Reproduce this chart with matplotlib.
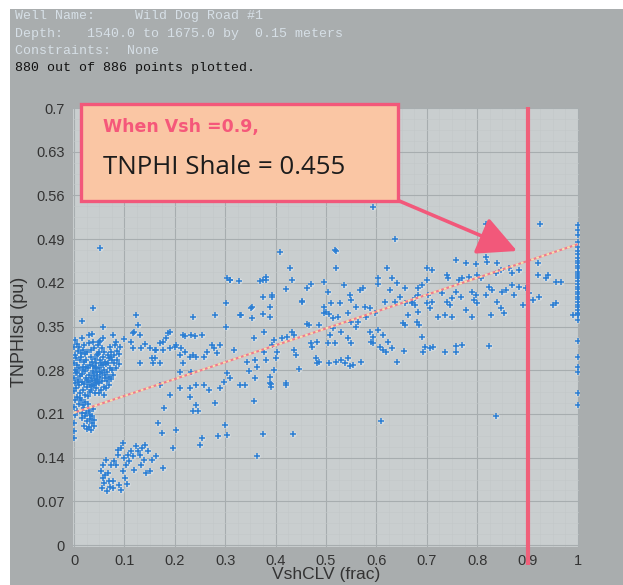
import matplotlib
matplotlib.use("Agg")
import matplotlib.pyplot as plt
from matplotlib.patches import Rectangle
import numpy as np

# ---------------------------------------------------------------------------
# Data: VshCLV (frac) vs TNPHIsd (pu), Wild Dog Road #1
# ---------------------------------------------------------------------------
sand_vsh = [0.000, 0.000, 0.001, 0.000, 0.002, 0.000, 0.001, 0.000, 0.002, 0.000, 0.001, 0.000, 0.002, 0.000,
            0.005, 0.006, 0.004, 0.007, 0.005, 0.006, 0.004, 0.007, 0.005,
            0.010, 0.011, 0.009, 0.012, 0.010, 0.011, 0.013, 0.009,
            0.015, 0.016, 0.014, 0.017, 0.015, 0.016, 0.018, 0.014, 0.017, 0.015,
            0.020, 0.021, 0.019, 0.022, 0.020, 0.023, 0.021, 0.019, 0.022, 0.020,
            0.025, 0.026, 0.024, 0.027, 0.025, 0.026, 0.028, 0.024, 0.026,
            0.030, 0.031, 0.029, 0.032, 0.030, 0.031, 0.033, 0.029,
            0.034, 0.035, 0.036, 0.034, 0.035, 0.037, 0.036, 0.034, 0.035,
            0.039, 0.040, 0.041, 0.039, 0.040, 0.042, 0.041, 0.039,
            0.044, 0.045, 0.046, 0.044, 0.045, 0.047,
            0.049, 0.050, 0.051, 0.049, 0.052, 0.050, 0.051,
            0.054, 0.055, 0.056, 0.054, 0.057, 0.055,
            0.059, 0.060, 0.061, 0.059, 0.062, 0.060, 0.058,
            0.064, 0.065, 0.066, 0.064, 0.067,
            0.069, 0.070, 0.071, 0.069, 0.072,
            0.074, 0.075, 0.076, 0.074,
            0.078, 0.079, 0.080, 0.081,
            0.084, 0.085, 0.086, 0.083,
            0.089, 0.090, 0.091,
            0.027, 0.033, 0.038, 0.043, 0.047, 0.052, 0.057, 0.031, 0.036, 0.041, 0.046, 0.053, 0.012, 0.018,
            0.023, 0.008, 0.003, 0.028, 0.037, 0.043, 0.062, 0.068, 0.073, 0.048, 0.022, 0.017, 0.032, 0.038]
sand_tnphi = [0.182, 0.196, 0.208, 0.221, 0.233, 0.247, 0.259, 0.268, 0.281, 0.292, 0.304, 0.317, 0.328, 0.172,
              0.214, 0.238, 0.252, 0.264, 0.277, 0.289, 0.299, 0.311, 0.322,
              0.226, 0.244, 0.257, 0.271, 0.284, 0.296, 0.307, 0.318,
              0.203, 0.212, 0.232, 0.249, 0.262, 0.274, 0.286, 0.301, 0.313, 0.331,
              0.191, 0.207, 0.219, 0.241, 0.258, 0.268, 0.279, 0.293, 0.306, 0.321,
              0.186, 0.199, 0.211, 0.226, 0.253, 0.265, 0.283, 0.297, 0.309,
              0.189, 0.202, 0.215, 0.256, 0.272, 0.288, 0.302, 0.324,
              0.184, 0.195, 0.206, 0.249, 0.263, 0.279, 0.293, 0.312, 0.338,
              0.191, 0.201, 0.244, 0.257, 0.271, 0.285, 0.298, 0.316,
              0.252, 0.266, 0.277, 0.291, 0.305, 0.321,
              0.244, 0.259, 0.270, 0.283, 0.297, 0.310, 0.327,
              0.249, 0.263, 0.275, 0.288, 0.302, 0.316,
              0.241, 0.254, 0.268, 0.281, 0.294, 0.309, 0.332,
              0.251, 0.263, 0.277, 0.290, 0.304,
              0.257, 0.270, 0.284, 0.299, 0.317,
              0.266, 0.281, 0.296, 0.309,
              0.272, 0.291, 0.304, 0.321,
              0.284, 0.297, 0.311, 0.326,
              0.290, 0.306, 0.317,
              0.261, 0.268, 0.276, 0.283, 0.262, 0.278, 0.289, 0.245, 0.255, 0.264, 0.272, 0.291, 0.236, 0.281,
              0.286, 0.262, 0.276, 0.239, 0.287, 0.259, 0.273, 0.292, 0.301, 0.306, 0.229, 0.224, 0.209, 0.218]

tight_vsh = [0.057, 0.054, 0.057, 0.055, 0.067, 0.070, 0.077, 0.093, 0.083, 0.087, 0.093, 0.100, 0.097, 0.103,
             0.107, 0.113, 0.123, 0.130, 0.140, 0.147, 0.133, 0.150, 0.143, 0.163, 0.177, 0.102, 0.090, 0.077,
             0.063, 0.073, 0.060, 0.066, 0.080, 0.088, 0.097, 0.110, 0.118, 0.127, 0.135, 0.120, 0.106, 0.062,
             0.071, 0.155, 0.138]
tight_tnphi = [0.128, 0.118, 0.107, 0.091, 0.115, 0.102, 0.091, 0.088, 0.128, 0.144, 0.155, 0.139, 0.118, 0.128,
               0.144, 0.150, 0.158, 0.144, 0.160, 0.150, 0.128, 0.118, 0.116, 0.142, 0.123, 0.107, 0.096, 0.102,
               0.136, 0.128, 0.099, 0.087, 0.135, 0.152, 0.163, 0.135, 0.142, 0.151, 0.156, 0.120, 0.098, 0.112,
               0.093, 0.136, 0.137]

shaly_vsh = [0.052, 0.038, 0.015, 0.058, 0.123, 0.127, 0.120, 0.130, 0.030, 0.037, 0.050, 0.113, 0.133, 0.117,
             0.150, 0.160, 0.170, 0.177, 0.190, 0.203, 0.213, 0.220, 0.230, 0.210, 0.243, 0.257, 0.283, 0.277,
             0.290, 0.190, 0.183, 0.217, 0.233, 0.253, 0.303, 0.310, 0.327, 0.301, 0.280, 0.237, 0.302, 0.330,
             0.317, 0.155, 0.157, 0.170, 0.130, 0.217, 0.210, 0.233, 0.170, 0.210, 0.190, 0.230, 0.243, 0.257,
             0.267, 0.230, 0.243, 0.237, 0.247, 0.280, 0.297, 0.303, 0.310, 0.330, 0.290, 0.179, 0.167, 0.175,
             0.203, 0.197, 0.253, 0.250, 0.285, 0.300, 0.303, 0.117, 0.163, 0.160, 0.177, 0.187, 0.200, 0.220,
             0.240, 0.236, 0.264, 0.274, 0.077, 0.100, 0.140]
shaly_tnphi = [0.476, 0.379, 0.359, 0.349, 0.368, 0.353, 0.341, 0.337, 0.337, 0.326, 0.325, 0.326, 0.315, 0.315,
               0.315, 0.313, 0.323, 0.313, 0.315, 0.320, 0.316, 0.310, 0.302, 0.304, 0.302, 0.302, 0.307, 0.315,
               0.320, 0.342, 0.331, 0.337, 0.337, 0.337, 0.427, 0.424, 0.423, 0.387, 0.369, 0.366, 0.350, 0.369,
               0.312, 0.299, 0.291, 0.291, 0.291, 0.291, 0.278, 0.278, 0.256, 0.251, 0.240, 0.251, 0.256, 0.256,
               0.248, 0.238, 0.224, 0.214, 0.215, 0.227, 0.262, 0.275, 0.267, 0.256, 0.251, 0.220, 0.195, 0.179,
               0.184, 0.156, 0.171, 0.160, 0.174, 0.192, 0.176, 0.340, 0.312, 0.300, 0.325, 0.340, 0.318, 0.335,
               0.335, 0.305, 0.310, 0.320, 0.336, 0.330, 0.322]

mid_vsh = [0.637, 0.409, 0.519, 0.429, 0.519, 0.622, 0.380, 0.370, 0.433, 0.470, 0.463, 0.420, 0.497, 0.535,
           0.603, 0.603, 0.630, 0.640, 0.657, 0.627, 0.567, 0.573, 0.547, 0.550, 0.375, 0.393, 0.453, 0.452,
           0.503, 0.353, 0.389, 0.510, 0.527, 0.497, 0.500, 0.505, 0.496, 0.513, 0.523, 0.543, 0.560, 0.578,
           0.587, 0.597, 0.580, 0.563, 0.550, 0.560, 0.617, 0.637, 0.647, 0.657, 0.670, 0.677, 0.663, 0.653,
           0.657, 0.463, 0.467, 0.487, 0.513, 0.353, 0.332, 0.389, 0.433, 0.437, 0.423, 0.377, 0.397, 0.393,
           0.413, 0.357, 0.470, 0.473, 0.483, 0.507, 0.503, 0.517, 0.530, 0.543, 0.550, 0.587, 0.593, 0.603,
           0.613, 0.593, 0.590, 0.607, 0.613, 0.623, 0.620, 0.630, 0.655, 0.437, 0.440, 0.402, 0.400, 0.377,
           0.380, 0.360, 0.363, 0.343, 0.397, 0.447, 0.480, 0.487, 0.482, 0.505, 0.520, 0.530, 0.543, 0.537,
           0.553, 0.547, 0.570, 0.640, 0.347, 0.360, 0.389, 0.389, 0.390, 0.340, 0.420, 0.357, 0.610, 0.309,
           0.375, 0.381, 0.352, 0.375, 0.393, 0.593, 0.517, 0.363, 0.375, 0.435, 0.420, 0.390]
mid_tnphi = [0.491, 0.470, 0.471, 0.444, 0.444, 0.443, 0.430, 0.423, 0.425, 0.418, 0.412, 0.410, 0.422, 0.417,
             0.427, 0.418, 0.427, 0.419, 0.411, 0.409, 0.409, 0.412, 0.401, 0.393, 0.398, 0.398, 0.391, 0.389,
             0.406, 0.382, 0.382, 0.387, 0.387, 0.382, 0.374, 0.370, 0.372, 0.363, 0.366, 0.371, 0.382, 0.382,
             0.379, 0.371, 0.366, 0.358, 0.358, 0.350, 0.390, 0.390, 0.398, 0.387, 0.390, 0.385, 0.369, 0.355,
             0.352, 0.354, 0.353, 0.353, 0.347, 0.363, 0.369, 0.366, 0.342, 0.337, 0.334, 0.341, 0.329, 0.321,
             0.331, 0.331, 0.323, 0.318, 0.326, 0.337, 0.323, 0.323, 0.342, 0.331, 0.323, 0.342, 0.334, 0.345,
             0.337, 0.323, 0.326, 0.318, 0.313, 0.326, 0.310, 0.315, 0.311, 0.313, 0.305, 0.310, 0.299, 0.310,
             0.297, 0.296, 0.286, 0.294, 0.280, 0.282, 0.300, 0.294, 0.291, 0.291, 0.294, 0.296, 0.299, 0.292,
             0.288, 0.287, 0.294, 0.294, 0.279, 0.267, 0.270, 0.259, 0.254, 0.256, 0.257, 0.231, 0.198, 0.424,
             0.425, 0.425, 0.380, 0.370, 0.400, 0.542, 0.472, 0.143, 0.178, 0.178, 0.260, 0.258]

shale_vsh = [0.817, 0.925, 0.757, 0.777, 0.797, 0.817, 0.820, 0.840, 0.700, 0.710, 0.920, 0.920, 0.940, 0.937,
             0.957, 0.967, 0.863, 0.883, 0.870, 0.847, 0.837, 0.800, 0.807, 0.783, 0.770, 0.763, 0.740, 0.743,
             0.700, 0.690, 0.682, 0.683, 0.677, 0.703, 0.700, 0.710, 0.707, 0.730, 0.740, 0.747, 0.750, 0.767,
             0.757, 0.790, 0.797, 0.793, 0.800, 0.823, 0.830, 0.817, 0.850, 0.857, 0.840, 0.847, 0.853, 0.873,
             0.883, 0.897, 0.903, 0.910, 0.870, 0.922, 0.950, 0.957, 0.990, 0.890, 0.827, 0.790, 0.777, 0.737,
             0.750, 0.723, 0.683, 0.680, 0.685, 0.670, 0.690, 0.697, 0.707, 0.713, 0.693, 0.737, 0.757, 0.757,
             0.770, 0.823, 0.838]
shale_tnphi = [0.515, 0.515, 0.457, 0.451, 0.450, 0.462, 0.454, 0.451, 0.443, 0.441, 0.451, 0.433, 0.433, 0.428,
               0.422, 0.422, 0.443, 0.441, 0.436, 0.441, 0.436, 0.433, 0.427, 0.430, 0.428, 0.425, 0.433, 0.428,
               0.425, 0.417, 0.412, 0.401, 0.395, 0.401, 0.387, 0.390, 0.379, 0.403, 0.390, 0.385, 0.395, 0.398,
               0.406, 0.406, 0.401, 0.393, 0.387, 0.414, 0.409, 0.401, 0.406, 0.409, 0.390, 0.379, 0.371, 0.401,
               0.414, 0.411, 0.403, 0.393, 0.417, 0.398, 0.385, 0.387, 0.369, 0.385, 0.369, 0.366, 0.377, 0.369,
               0.366, 0.366, 0.374, 0.358, 0.353, 0.387, 0.334, 0.318, 0.315, 0.318, 0.310, 0.310, 0.319, 0.310,
               0.320, 0.319, 0.206]

pure_shale_vsh = [1.0] * 38
pure_shale_tnphi = [0.513, 0.505, 0.497, 0.486, 0.478, 0.471, 0.466, 0.460, 0.455, 0.451, 0.447, 0.443, 0.438,
                    0.434, 0.431, 0.427, 0.423, 0.418, 0.414, 0.410, 0.406, 0.402, 0.398, 0.394, 0.389, 0.385,
                    0.381, 0.376, 0.372, 0.368, 0.327, 0.301, 0.285, 0.277, 0.243, 0.224, 0.360, 0.370]

# Linear trend TNPHI = a + b * Vsh
trend_intercept = 0.212
trend_slope = 0.27

# Shale picks
vsh_shale = 0.9
tnphi_shale = 0.455

x_ticks = [0, 0.1, 0.2, 0.3, 0.4, 0.5, 0.6, 0.7, 0.8, 0.9, 1]
x_tick_labels = ["0", "0.1", "0.2", "0.3", "0.4", "0.5", "0.6", "0.7", "0.8", "0.9", "1"]
y_ticks = [0, 0.07, 0.14, 0.21, 0.28, 0.35, 0.42, 0.49, 0.56, 0.63, 0.7]
y_tick_labels = ["0", "0.07", "0.14", "0.21", "0.28", "0.35", "0.42", "0.49", "0.56", "0.63", "0.7"]

header_lines = ["Well Name:     Wild Dog Road #1",
                "Depth:   1540.0 to 1675.0 by  0.15 meters",
                "Constraints:  None"]
count_line = "880 out of 886 points plotted."

# ---------------------------------------------------------------------------
W, H = 623, 585
fig = plt.figure(figsize=(W / 100, H / 100), dpi=100, facecolor="white")


def fx(px):
    return px / W


def fy(py):
    return 1 - py / H


# gray panel behind the whole plot
fig.patches.append(Rectangle((fx(10), 0), 1 - fx(10), fy(9), transform=fig.transFigure,
                             facecolor="#a9adae", edgecolor="none", zorder=-5))

for i, line in enumerate(header_lines):
    fig.text(fx(15), fy(16 + 17.5 * i), line, family="Liberation Mono", fontsize=9.5,
             color="#d6dfe6", va="center", ha="left")
fig.text(fx(15), fy(68), count_line, family="Liberation Mono", fontsize=9.5,
         color="#111111", va="center", ha="left")

ax = fig.add_axes([fx(73), fy(547), fx(579) - fx(73), fy(108) - fy(547)])
ax.set_zorder(1)
ax.set_facecolor("#c9cecf")
ax.set_xlim(-0.002, 1.002)
ax.set_ylim(-0.003, 0.7)
for s in ax.spines.values():
    s.set_visible(False)

ax.set_xticks(x_ticks)
ax.set_xticklabels(x_tick_labels)
ax.set_yticks(y_ticks)
ax.set_yticklabels(y_tick_labels)
ax.set_xticks(np.arange(0, 1.0001, 0.025), minor=True)
ax.set_yticks(np.arange(0, 0.7001, 0.0175), minor=True)
ax.tick_params(which="both", length=0)
ax.tick_params(axis="y", pad=6, labelsize=10.5, labelcolor="#333333")
ax.tick_params(axis="x", pad=5, labelsize=10.5, labelcolor="#333333")
for lab in ax.get_xticklabels() + ax.get_yticklabels():
    lab.set_family("Liberation Sans")
ax.grid(True, which="major", color="#a7adaf", lw=0.8)
ax.grid(True, which="minor", color="#c3c8c9", lw=0.4)
ax.set_axisbelow(True)

ax.set_xlabel("VshCLV (frac)", family="Liberation Sans", fontsize=12.5, color="#333333")
ax.set_ylabel("TNPHIsd (pu)", family="Liberation Sans", fontsize=13, color="#333333")
ax.xaxis.label.set_va("center")
ax.yaxis.label.set_va("center")
ax.xaxis.set_label_coords(0.5, -0.062)
ax.yaxis.set_label_coords(-0.106, 0.49)

groups = [(sand_vsh, sand_tnphi), (tight_vsh, tight_tnphi), (shaly_vsh, shaly_tnphi),
          (mid_vsh, mid_tnphi), (shale_vsh, shale_tnphi), (pure_shale_vsh, pure_shale_tnphi)]
for gx, gy in groups:
    ax.scatter(gx, gy, s=22, marker="o", color="#e6eef4", alpha=0.45, lw=0, zorder=3)
    ax.scatter(gx, gy, s=13, marker="+", color="#2b7ed3", lw=1.1, zorder=4)

# trend line: pink with pale dashes
tx = np.array([0.0, 1.0])
ty = trend_intercept + trend_slope * tx
ax.plot(tx, ty, color="#f2788c", lw=1.5, zorder=5, solid_capstyle="butt")
ax.plot(tx, ty, color="#f4e2b0", lw=1.5, zorder=6, dashes=(1.3, 1.3))

# vertical shale cut-off line
ax.plot([vsh_shale, vsh_shale], [-0.032, 0.701], color="#f0607a", lw=3.0, zorder=8,
        clip_on=False, solid_capstyle="butt")

# callout box
fig.patches.append(Rectangle((fx(81), fy(201)), fx(398) - fx(81), fy(104) - fy(201),
                             transform=fig.transFigure, facecolor="#fac6a4",
                             edgecolor="#f2587a", lw=2.4, zorder=10))
fig.text(fx(103), fy(127), "When Vsh =%.1f," % vsh_shale, family="DejaVu Sans", weight="bold",
         fontsize=12.5, color="#f5587a", va="center", ha="left", zorder=11)
fig.text(fx(103), fy(168), "TNPHI Shale = %.3f" % tnphi_shale, family="Open Sans",
         fontsize=18.6, color="#1c1c1c", va="center", ha="left", zorder=11)

ax.annotate("", xy=(517, H - 251), xytext=(397, H - 200), xycoords="figure pixels",
            textcoords="figure pixels", annotation_clip=False, zorder=12,
            arrowprops=dict(arrowstyle="-|>,head_length=1.2,head_width=0.6", color="#f2587a",
                            lw=2.6, shrinkA=0, shrinkB=0, mutation_scale=20))

fig.savefig("out.png", dpi=100, facecolor="white")
